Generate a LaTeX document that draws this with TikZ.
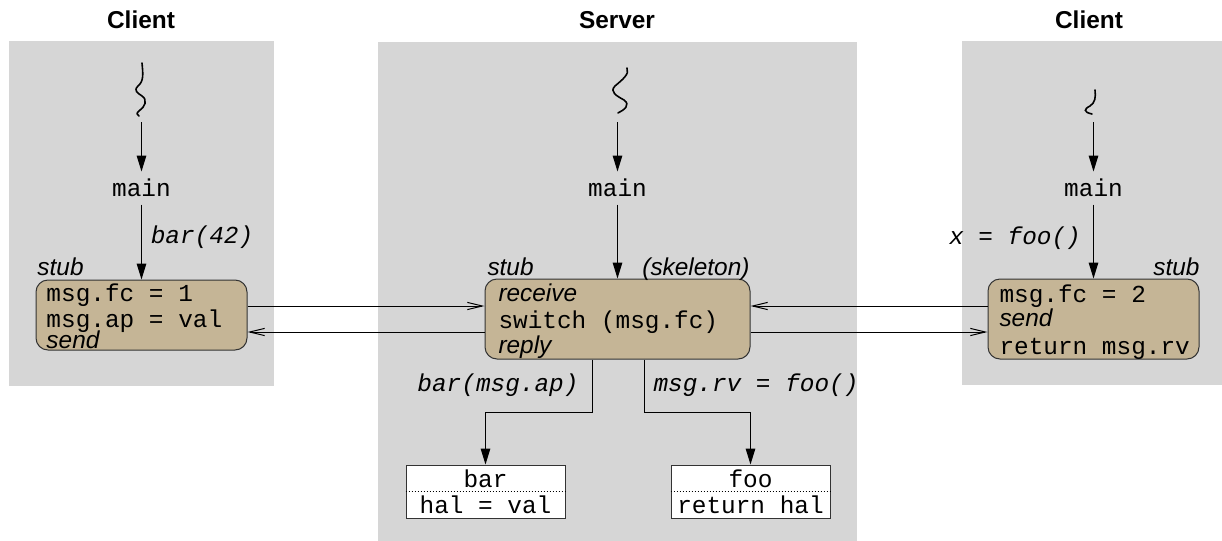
\documentclass[tikz,border=0pt]{standalone}
\usepackage{fontspec}
\setmainfont{Liberation Sans}
\setmonofont{Liberation Mono}
\usetikzlibrary{arrows.meta}
\definecolor{panel}{RGB}{214,214,214}
\definecolor{stubtan}{RGB}{197,181,150}
\newcommand\fsz{\fontsize{12.2pt}{13pt}\selectfont}
\begin{document}
\begin{tikzpicture}[x=0.5pt,y=-0.5pt, line width=0.5pt,
  title/.style={font=\fsz\bfseries, inner sep=0pt},
  code/.style={font=\fsz\ttfamily, inner sep=0pt},
  icode/.style={font=\fsz\ttfamily\itshape, inner sep=0pt},
  isans/.style={font=\fsz\itshape, inner sep=0pt},
  mainnode/.style={code, minimum height=16pt},
  stubbox/.style={draw=black!80, fill=stubtan, rounded corners=6pt, inner sep=0pt},
  funbox/.style={draw=black!80, fill=white, inner sep=0pt, minimum width=79.5pt, minimum height=26.5pt},
  varr/.style={-{Triangle[length=8pt,width=4.8pt]}},
  harr/.style={-{Straight Barb[length=7.5pt,width=3.6pt]}},
  wiggle/.style={line width=0.8pt, line cap=round},
  dotsep/.style={dash pattern=on 0.5pt off 1pt},
]
\useasboundingbox (0,0) rectangle (1222,541);
% panels
\fill[panel] (9,41) rectangle (274,386);
\fill[panel] (378,42) rectangle (857,541);
\fill[panel] (962,41) rectangle (1222,385);
% titles
\node[title] (t1) at (141,20) {Client};
\node[title] (t2) at (617,20) {Server};
\node[title] (t3) at (1089,20) {Client};
% threads
\draw[wiggle] (142,63) .. controls (143,74) and (144,81) .. (138,86)
  .. controls (133,91) and (138,93) .. (142,96)
  .. controls (148,100) and (145,107) .. (139,111)
  .. controls (136,113) and (137,115) .. (139,116);
\draw[wiggle] (627,68) .. controls (630,74) and (622,80) .. (615,86)
  .. controls (609,92) and (617,96) .. (624,100)
  .. controls (631,105) and (624,110) .. (618,113);
\draw[wiggle] (1095,90) .. controls (1096,97) and (1095,103) .. (1090,106)
  .. controls (1084,109) and (1083,112) .. (1092,114);
\coordinate (lw) at (141.5,122);
\coordinate (sw) at (617.5,122);
\coordinate (rw) at (1093.5,122);
% main nodes
\node[mainnode] (lmain) at (141.5,188) {main};
\node[mainnode] (smain) at (617.5,188) {main};
\node[mainnode] (rmain) at (1093.5,188) {main};
% stub boxes
\node[stubbox, minimum width=105.5pt, minimum height=35pt] (lbox) at (141.5,315) {};
\node[code, anchor=base west] (l1) at (46,301) {msg.fc = 1};
\node[code, anchor=base west] (l2) at (46,327) {msg.ap = val};
\node[isans, anchor=base west] (l3) at (46,348) {send};
\node[stubbox, minimum width=132.5pt, minimum height=40pt] (skel) at (617.5,319) {};
\node[isans, anchor=base west] (s1) at (498,301) {receive};
\node[code, anchor=base west] (s2) at (498,328) {switch (msg.fc)};
\node[isans, anchor=base west] (s3) at (498,353) {reply};
\node[stubbox, minimum width=105.5pt, minimum height=40pt] (rbox) at (1093.5,319) {};
\node[code, anchor=base west] (r1) at (999,302) {msg.fc = 2};
\node[isans, anchor=base west] (r2) at (999,326.5) {send};
\node[code, anchor=base west] (r3) at (999,354) {return msg.rv};
% labels
\node[isans, anchor=base west] (lstub) at (37,275) {stub};
\node[isans, anchor=base west] (sstub) at (487,275) {stub};
\node[isans, anchor=base east] (skl) at (750,275) {(skeleton)};
\node[isans, anchor=base east] (rstub) at (1200,275) {stub};
\node[icode] (l42) at (202,237) {bar(42)};
\node[icode] (rfoo) at (1015,238) {x = foo()};
\node[icode] (lbl1) at (498,385) {bar(msg.ap)};
\node[icode, anchor=west] (lbl2) at (653,385) {msg.rv = foo()};
% function boxes
\node[funbox] (barbox) at (485.5,491.5) {};
\node[code] (bart) at (485.5,479) {bar};
\node[code] (barb) at (485.5,505) {hal = val};
\node[funbox] (foobox) at (750.5,491.5) {};
\node[code] (foot) at (750.5,479) {foo};
\node[code] (foob) at (750.5,505) {return hal};
\draw[dotsep] (barbox.west |- 0,491) -- (barbox.east |- 0,491);
\draw[dotsep] (foobox.west |- 0,491) -- (foobox.east |- 0,491);
% vertical arrows
\draw[varr] (lw) -- (lmain.north);
\draw[varr] (sw) -- (smain.north);
\draw[varr] (rw) -- (rmain.north);
\draw[varr] (lmain.south) -- (lbox.north);
\draw[varr] (smain.south) -- (skel.north);
\draw[varr] (rmain.south) -- (rbox.north);
% horizontal arrows
\draw[harr] (lbox.east |- 0,306) -- (skel.west |- 0,306);
\draw[harr] (skel.west |- 0,332) -- (lbox.east |- 0,332);
\draw[harr] (rbox.west |- 0,306) -- (skel.east |- 0,306);
\draw[harr] (skel.east |- 0,332) -- (rbox.west |- 0,332);
% skeleton to functions
\draw[varr] ([xshift=-12.75pt]skel.south) -- ++(0,53) -| (barbox.north);
\draw[varr] ([xshift=13.25pt]skel.south) -- ++(0,53) -| (foobox.north);
\end{tikzpicture}
\end{document}
